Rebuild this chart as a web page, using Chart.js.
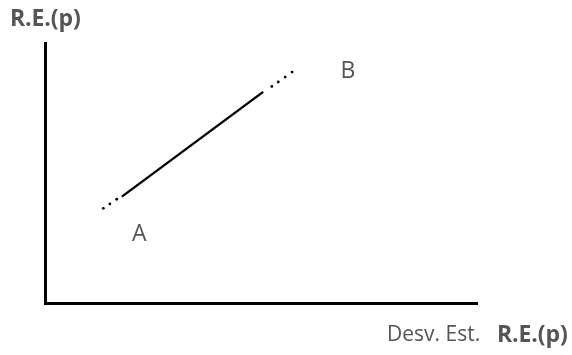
<!DOCTYPE html>
<html>
<head>
<meta charset="utf-8">
<script src="https://cdn.jsdelivr.net/npm/chart.js@4"></script>
<style>
  html, body { margin: 0; padding: 0; background: #fff; }
  .wrap { position: relative; width: 572px; height: 355px; }
  .lbl { position: absolute; font-family: "Open Sans", sans-serif; color: #555; white-space: nowrap; }
  #yTitle { left: 10px; top: 1px; font-size: 23px; font-weight: 700; letter-spacing: -0.1px; }
  #xTitle { left: 387px; top: 319px; font-size: 21px; }
  #xTitle b { position: absolute; left: 110px; top: -2px; font-size: 23px; font-weight: 700; letter-spacing: -0.1px; }
</style>
</head>
<body>
<div class="wrap">
  <canvas id="reChart" width="572" height="355"></canvas>
  <div class="lbl" id="yTitle">R.E.(p)</div>
  <div class="lbl" id="xTitle">Desv. Est. <b>R.E.(p)</b></div>
</div>
<script>
// curve between A and B (solid part)
const curveX = [1.78, 5.05];
const curveY = [4.09, 8.12];
// dotted continuation below A and above B
const lowDotsX = [1.35, 1.50, 1.66];
const lowDotsY = [3.64, 3.81, 3.99];
const highDotsX = [5.25, 5.40, 5.56, 5.72];
const highDotsY = [8.33, 8.50, 8.69, 8.88];
// point names
const pointNames = ['A', 'B'];
const pointNameX = [2.18, 7.01];
const pointNameY = [2.62, 8.92];

const toXY = (xs, ys) => xs.map((x, i) => ({ x: x, y: ys[i] }));

// writes A / B next to the curve ends
const pointNamePlugin = {
    id: 'pointNames',
    afterDatasetsDraw(chart) {
        const ctx = chart.ctx;
        ctx.save();
        ctx.fillStyle = '#555';
        ctx.font = '23px "Open Sans", sans-serif';
        ctx.textAlign = 'center';
        ctx.textBaseline = 'middle';
        pointNames.forEach((name, i) => {
            ctx.fillText(name, chart.scales.x.getPixelForValue(pointNameX[i]),
                chart.scales.y.getPixelForValue(pointNameY[i]));
        });
        ctx.restore();
    }
};

document.addEventListener('DOMContentLoaded', function() {
    const ctx = document.getElementById('reChart').getContext('2d');
    new Chart(ctx, {
        type: 'scatter',
        data: {
            datasets: [{
                data: toXY(curveX, curveY),
                showLine: true,
                borderColor: '#000',
                borderWidth: 2.4,
                pointRadius: 0
            }, {
                data: toXY(lowDotsX, lowDotsY).concat(toXY(highDotsX, highDotsY)),
                showLine: false,
                backgroundColor: '#000',
                borderWidth: 0,
                pointRadius: 1.4
            }]
        },
        options: {
            responsive: false,
            animation: false,
            events: [],
            layout: { padding: { left: 45, top: 43, right: 95, bottom: 52 } },
            plugins: {
                legend: { display: false },
                tooltip: { enabled: false }
            },
            scales: {
                x: {
                    min: 0, max: 10,
                    ticks: { display: false, padding: 0 },
                    grid: { display: false, drawTicks: false, tickLength: 0 },
                    border: { display: true, color: '#000', width: 3 }
                },
                y: {
                    min: 0, max: 10,
                    ticks: { display: false, padding: 0 },
                    grid: { display: false, drawTicks: false, tickLength: 0 },
                    border: { display: true, color: '#000', width: 3 }
                }
            }
        },
        plugins: [pointNamePlugin]
    });
});
</script>
</body>
</html>
